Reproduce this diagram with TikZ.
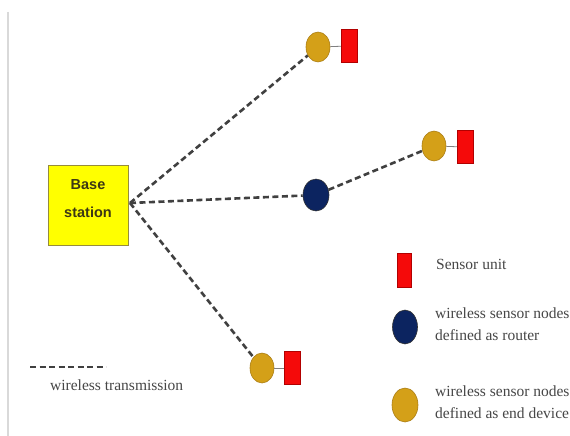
\documentclass[tikz,border=0pt]{standalone}
\usepackage{fontspec}
\setmainfont{Liberation Serif}
\setsansfont{Liberation Sans}
\usetikzlibrary{shapes.geometric}
\definecolor{gold}{RGB}{212,160,24}
\definecolor{golddark}{RGB}{170,125,20}
\definecolor{navy}{RGB}{12,36,96}
\definecolor{sred}{RGB}{245,10,10}
\definecolor{byellow}{RGB}{255,255,0}
\definecolor{bborder}{RGB}{150,140,60}
\definecolor{btext}{RGB}{60,55,20}
\definecolor{txt}{RGB}{70,70,70}
\begin{document}
\begin{tikzpicture}[x=1pt,y=-1pt,
  enddev/.style={ellipse,fill=gold,draw=golddark,line width=0.6pt,minimum width=24pt,minimum height=30pt,inner sep=0pt},
  router/.style={ellipse,fill=navy,draw=black!80,line width=0.6pt,minimum width=26pt,minimum height=32pt,inner sep=0pt},
  sensor/.style={rectangle,fill=sred,draw=red!70!black,line width=0.5pt,minimum width=16pt,minimum height=33pt,inner sep=0pt},
  link/.style={draw=black!75,dash pattern=on 6pt off 3.5pt,line width=2.6pt},
  tie/.style={draw=black!50,line width=0.8pt},
  lbl/.style={font=\fontsize{15.5}{22}\selectfont,text=txt,inner sep=0pt,anchor=west,align=left}]
\useasboundingbox[fill=white] (0,0) rectangle (570,436);
\draw[black!15,line width=1.5pt] (8,12) -- (8,436);
% base station
\node[rectangle,fill=byellow,draw=bborder,line width=1pt,minimum width=80pt,minimum height=80pt] (bs) at (88,205) {};
\node[align=center,inner sep=0pt,font=\sffamily\bfseries\fontsize{14.5}{28}\selectfont,text=btext] (bst) at (88,199) {Base\\station};
% nodes
\node[enddev] (e1) at (318,47) {};
\node[sensor] (s1) at (349,46) {};
\node[enddev] (e2) at (434,146) {};
\node[sensor] (s2) at (465,147) {};
\node[router] (r) at (316,195) {};
\node[enddev] (e3) at (262,368) {};
\node[sensor] (s3) at (292,368) {};
\draw[tie] (e1) -- (s1);
\draw[tie] (e2) -- (s2);
\draw[tie] (e3) -- (s3);
% links
\coordinate (bsc) at (130,203);
\draw[link] (bsc) -- (e1);
\draw[link] (bsc) -- (r);
\draw[link] (bsc) -- (e3);
\draw[link] (r) -- (e2);
% legend
\coordinate (la) at (30,367);
\coordinate (lb) at (106,367);
\draw[link,line width=2.2pt] (la) -- (lb);
\node[lbl] (lt) at (50,385) {wireless transmission};
\node[sensor,minimum width=14pt,minimum height=34pt] (ls) at (404,270) {};
\node[lbl] (lst) at (436,264) {Sensor unit};
\node[router,minimum width=25pt,minimum height=34pt] (lr) at (405,327) {};
\node[lbl,anchor=north west] (lrt) at (435,308) {wireless sensor nodes\\defined as router};
\node[enddev,minimum width=26pt,minimum height=34pt] (le) at (405,405) {};
\node[lbl,anchor=north west] (let) at (435,386) {wireless sensor nodes\\defined as end device};
\end{tikzpicture}
\end{document}
